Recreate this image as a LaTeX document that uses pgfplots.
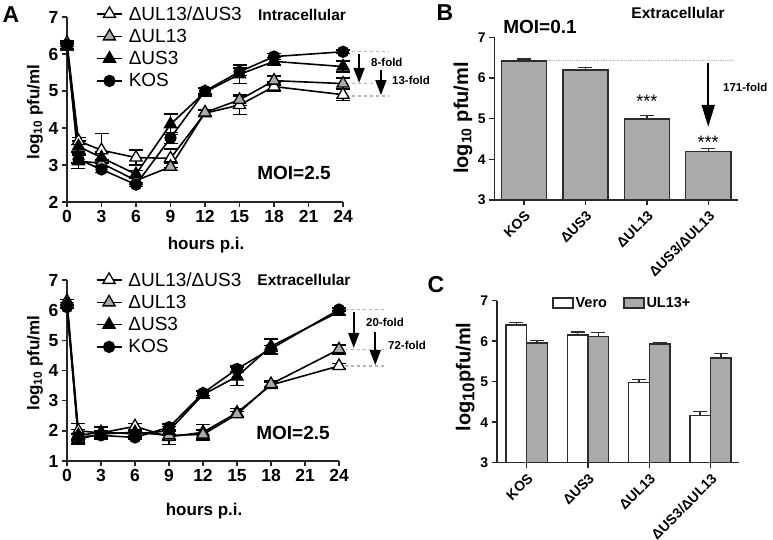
\documentclass[border=0pt]{standalone}
\usepackage{fontspec}
\setmainfont{Liberation Sans}
\usepackage{pgfplots}
\pgfplotsset{compat=1.18}
\usetikzlibrary{arrows.meta}

\definecolor{barg}{RGB}{170,170,170}
\definecolor{dashg}{RGB}{180,180,180}
\definecolor{edge}{RGB}{45,45,45}
\newcommand{\fs}[1]{\fontsize{#1}{#1}\selectfont}

\pgfplotsset{
  prism/.style={
    scale only axis,
    axis x line*=bottom, axis y line*=left,
    axis line style={line width=1.6pt, black!85},
    tick style={line width=1.4pt, black!85},
    tick align=outside,
    major tick length=5pt,
    clip=false,
    /pgf/number format/assume math mode=true,
    ticklabel style={font=\bfseries\fs{17.5}},
    label style={font=\bfseries\fs{17}},
  },
  growth/.style={
    prism,
    xmin=0, xmax=24, xtick={0,3,...,24},
    legend cell align=left,
    legend style={draw=none, fill=none, font=\fs{19}, inner sep=0pt, row sep=3.5pt},
    legend image code/.code={\draw[mark repeat=2,mark phase=2,##1] plot coordinates {(0pt,0pt) (12.5pt,0pt) (25pt,0pt)}; \path (29pt,0pt);},
    xlabel={hours p.i.},
    ylabel={log\textsubscript{10} pfu/ml},
  },
  errs/.style={error bars/y dir=both, error bars/y explicit,
    error bars/error bar style={line width=1.4pt, black},
    error bars/error mark options={rotate=90, mark size=7pt, line width=1.4pt, black}},
  sdd/.style={black, line width=1.6pt, mark=triangle*, mark size=7pt, mark options={fill=white, line width=1.3pt}, errs},
  sul/.style={black, line width=1.6pt, mark=triangle*, mark size=7pt, mark options={fill=barg, line width=1.3pt}, errs},
  sus/.style={black, line width=1.6pt, mark=triangle*, mark size=7pt, mark options={fill=black, line width=1.3pt}, errs},
  skos/.style={black, line width=1.6pt, mark=*, mark size=5.5pt, mark options={fill=black, line width=1.3pt}, errs},
  berrs/.style={error bars/y dir=plus, error bars/y explicit,
    error bars/error bar style={line width=1.4pt, edge},
    error bars/error mark options={rotate=90, mark size=7pt, line width=1.4pt, edge}},
}

\begin{document}
\begin{tikzpicture}
\useasboundingbox (0,0) rectangle (773pt,540pt);

% ---- A, intracellular
\begin{axis}[growth, at={(67pt,338pt)}, anchor=south west, width=276pt, height=185pt,
  ymin=2, ymax=7, ytick={2,...,7},
  legend style={at={(rel axis cs:0.105,1.07)}, anchor=north west},
  xlabel style={at={(axis description cs:0.504,-0.232)}, anchor=center},
  ylabel style={at={(axis description cs:-0.116,0.486)}, anchor=center}]
\addplot[sdd] coordinates {(0,6.3)+-(0,0.05) (1,3.65)+-(0,0.1) (3,3.4)+-(0,0.45) (6,3.2)+-(0,0.2) (9,3.18)+-(0,0.25) (12,4.4)+-(0,0.08) (15,4.62)+-(0,0.25) (18,5.12)+-(0,0.12) (24,4.9)+-(0,0.15)};
\addplot[sul] coordinates {(0,6.2)+-(0,0.05) (1,3.1)+-(0,0.2) (3,3.05)+-(0,0.1) (6,2.58)+-(0,0.1) (9,2.95)+-(0,0.1) (12,4.42)+-(0,0.08) (15,4.76)+-(0,0.15) (18,5.28)+-(0,0.12) (24,5.2)+-(0,0.15)};
\addplot[sus] coordinates {(0,6.2)+-(0,0.05) (1,3.5)+-(0,0.15) (3,3.2)+-(0,0.15) (6,2.75)+-(0,0.1) (9,4.1)+-(0,0.28) (12,4.97)+-(0,0.1) (15,5.45)+-(0,0.25) (18,5.8)+-(0,0.1) (24,5.66)+-(0,0.15)};
\addplot[skos] coordinates {(0,6.25)+-(0,0.05) (1,3.15)+-(0,0.1) (3,2.88)+-(0,0.08) (6,2.47)+-(0,0.05) (9,3.73)+-(0,0.15) (12,5.0)+-(0,0.08) (15,5.52)+-(0,0.1) (18,5.93)+-(0,0.08) (24,6.06)+-(0,0.05)};
\legend{ΔUL13/ΔUS3,ΔUL13,ΔUS3,KOS}
\draw[dashg, dashed, line width=1.4pt] (axis cs:24.3,6.07) -- (axis cs:28,6.07);
\draw[dashg, dashed, line width=1.4pt] (axis cs:24.3,5.2) -- (axis cs:28,5.2);
\draw[dashg, dashed, line width=1.4pt] (axis cs:24.3,4.87) -- (axis cs:28,4.87);
\draw[line width=1.6pt, -{Triangle[width=11pt,length=15pt]}] (axis cs:25.4,6.0) -- (axis cs:25.4,5.22);
\draw[line width=1.6pt, -{Triangle[width=11pt,length=15pt]}] (axis cs:27.3,5.57) -- (axis cs:27.3,4.89);
\end{axis}

% ---- A, extracellular
\begin{axis}[growth, at={(67pt,79pt)}, anchor=south west, width=272pt, height=181pt,
  ymin=1, ymax=7, ytick={1,...,7},
  legend style={at={(rel axis cs:0.105,1.055)}, anchor=north west},
  xlabel style={at={(axis description cs:0.504,-0.275)}, anchor=center},
  ylabel style={at={(axis description cs:-0.118,0.541)}, anchor=center}]
\addplot[sdd] coordinates {(0,6.3)+-(0,0.05) (1,2.0)+-(0,0.25) (3,1.93)+-(0,0.2) (6,2.15)+-(0,0.1) (9,1.8)+-(0,0.25) (12,1.95)+-(0,0.25) (15,2.6)+-(0,0.15) (18,3.52)+-(0,0.1) (24,4.15)+-(0,0.08)};
\addplot[sul] coordinates {(0,6.2)+-(0,0.05) (1,1.72)+-(0,0.15) (3,1.9)+-(0,0.1) (6,1.95)+-(0,0.1) (9,1.85)+-(0,0.15) (12,1.88)+-(0,0.15) (15,2.55)+-(0,0.1) (18,3.55)+-(0,0.1) (24,4.7)+-(0,0.15)};
\addplot[sus] coordinates {(0,6.2)+-(0,0.05) (1,1.85)+-(0,0.2) (3,1.95)+-(0,0.2) (6,1.9)+-(0,0.1) (9,2.0)+-(0,0.15) (12,3.2)+-(0,0.1) (15,3.8)+-(0,0.3) (18,4.8)+-(0,0.25) (24,5.95)+-(0,0.1)};
\addplot[skos] coordinates {(0,6.1)+-(0,0.05) (1,1.8)+-(0,0.1) (3,1.85)+-(0,0.1) (6,1.78)+-(0,0.05) (9,2.12)+-(0,0.1) (12,3.25)+-(0,0.08) (15,4.05)+-(0,0.1) (18,4.72)+-(0,0.1) (24,6.02)+-(0,0.05)};
\legend{ΔUL13/ΔUS3,ΔUL13,ΔUS3,KOS}
\draw[dashg, dashed, line width=1.4pt] (axis cs:24.5,6.03) -- (axis cs:28.2,6.03);
\draw[dashg, dashed, line width=1.4pt] (axis cs:24.5,4.7) -- (axis cs:28.2,4.7);
\draw[dashg, dashed, line width=1.4pt] (axis cs:24.5,4.15) -- (axis cs:28.2,4.15);
\draw[line width=1.6pt, -{Triangle[width=11pt,length=15pt]}] (axis cs:25.3,5.95) -- (axis cs:25.3,4.75);
\draw[line width=1.6pt, -{Triangle[width=11pt,length=15pt]}] (axis cs:27.2,5.29) -- (axis cs:27.2,4.18);
\end{axis}

% ---- B
\begin{axis}[prism, at={(494.3pt,340pt)}, anchor=south west, width=243.7pt, height=162.7pt,
  clip=true, ymin=3, ymax=7, ytick={3,...,7},
  xmin=-0.485, xmax=3.485, xtick={0,1,2,3},
  xticklabels={KOS,ΔUS3,ΔUL13,ΔUS3/ΔUL13},
  xticklabel style={rotate=45, anchor=north east, font=\bfseries\fs{14}},
  yticklabel style={font=\bfseries\fs{14}},
  ylabel={log\textsubscript{10} pfu/ml},
  ylabel style={at={(axis description cs:-0.128,0.504)}, anchor=center, font=\bfseries\fs{20}},
  ybar, bar width=0.734]
\addplot[fill=barg, draw=edge, line width=1.5pt, berrs] coordinates {(0,6.42)+-(0,0.05) (1,6.19)+-(0,0.07) (2,4.99)+-(0,0.08) (3,4.19)+-(0,0.08)};
\draw[dashg, densely dotted, line width=0.8pt] (axis cs:0.37,6.42) -- (axis cs:3.4,6.42);
\draw[line width=2pt, -{Triangle[width=13pt,length=22pt]}] (axis cs:3,6.36) -- (axis cs:3,4.8);
\node[font=\fs{18}] at (axis cs:2,5.42) {***};
\node[font=\fs{18}] at (axis cs:3,4.43) {***};
\end{axis}

% ---- C
\begin{axis}[prism, at={(496.7pt,77.3pt)}, anchor=south west, width=242.6pt, height=162pt,
  clip=true, ymin=3, ymax=7, ytick={3,...,7},
  xmin=-0.49, xmax=3.47, xtick={0,1,2,3},
  xticklabels={KOS,ΔUS3,ΔUL13,ΔUS3/ΔUL13},
  xticklabel style={rotate=45, anchor=north east, font=\bfseries\fs{14}},
  yticklabel style={font=\bfseries\fs{14}},
  ylabel={log\raisebox{-4pt}{\fs{17}10}pfu/ml},
  ylabel style={at={(axis description cs:-0.13,0.529)}, anchor=center, font=\bfseries\fs{20}},
  ybar=0pt, bar width=0.337,
  legend columns=2,
  legend style={draw=none, fill=none, font=\bfseries\fs{14.5}, at={(rel axis cs:0.215,0.986)}, anchor=west,
    /tikz/every even column/.append style={column sep=14pt}},
  legend image code/.code={\draw[#1, line width=1.5pt] (0pt,-5pt) rectangle (20pt,5pt);}]
\addplot[fill=white, draw=edge, line width=1.5pt, berrs] coordinates {(0,6.4)+-(0,0.06) (1,6.15)+-(0,0.08) (2,4.98)+-(0,0.08) (3,4.16)+-(0,0.1)};
\addplot[fill=barg, draw=edge, line width=1.5pt, berrs] coordinates {(0,5.96)+-(0,0.06) (1,6.11)+-(0,0.1) (2,5.93)+-(0,0.03) (3,5.58)+-(0,0.12)};
\legend{Vero,UL13+}
\end{axis}

% ---- text
\node[font=\bfseries\fs{23}] at (11pt,525pt) {A};
\node[font=\bfseries\fs{23}] at (445pt,527pt) {B};
\node[font=\bfseries\fs{23}] at (436pt,255pt) {C};
\node[font=\bfseries\fs{15.5}] at (302pt,525pt) {Intracellular};
\node[font=\bfseries\fs{15.5}] at (304pt,260pt) {Extracellular};
\node[font=\bfseries\fs{15.5}] at (678pt,527pt) {Extracellular};
\node[font=\bfseries\fs{19}] at (294pt,367pt) {MOI=2.5};
\node[font=\bfseries\fs{19}] at (293pt,107pt) {MOI=2.5};
\node[font=\bfseries\fs{19}] at (540pt,513pt) {MOI=0.1};
\node[font=\bfseries\fs{11.5}, anchor=west, inner sep=0pt] at (371pt,478pt) {8-fold};
\node[font=\bfseries\fs{11.5}, anchor=west, inner sep=0pt] at (392pt,460pt) {13-fold};
\node[font=\bfseries\fs{11.5}, anchor=west, inner sep=0pt] at (366pt,218pt) {20-fold};
\node[font=\bfseries\fs{11.5}, anchor=west, inner sep=0pt] at (388pt,195pt) {72-fold};
\node[font=\bfseries\fs{11.5}, anchor=west, inner sep=0pt] at (723pt,453pt) {171-fold};
\end{tikzpicture}
\end{document}
